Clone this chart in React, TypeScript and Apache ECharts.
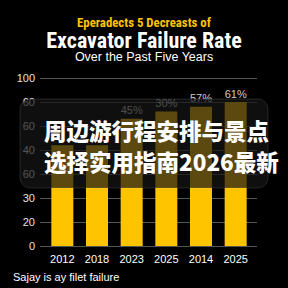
import React, { useEffect, useRef } from "react";
import * as echarts from "echarts";

const categories = ["2012", "2018", "2023", "2025", "2014", "2025"];
const barValues = [42, 42, 53, 56, 58, 60];
const barLabels = ["", "", "45%", "30%", "57%", "61%"];
const tickLabels = ["0", "20", "30", "60", "40", "60", "60", "100"];
const titleTop = "Eperadects 5 Decreasts of";
const titleMain = "Excavator Failure Rate";
const titleSub = "Over the Past Five Years";
const caption = "Sajay is ay filet failure";
const overlayLines = ["周边游行程安排与景点", "选择实用指南2026最新"];

export default function App() {
  const ref = useRef<HTMLDivElement>(null);
  useEffect(() => {
    const chart = echarts.init(ref.current!, null, { renderer: "svg" });
    const narrow = "'Roboto Condensed', 'Liberation Sans', Arial, sans-serif";
    chart.setOption({
      animation: false,
      backgroundColor: "#000000",
      grid: [
        { left: 40, right: 31, top: 78, bottom: 42 },
        { left: 45, right: 35, top: 78, bottom: 42 },
      ],
      xAxis: [
        { type: "category", gridIndex: 0, data: categories, show: false },
        {
          type: "category",
          gridIndex: 1,
          data: categories,
          axisLine: { show: false },
          axisTick: { show: false },
          axisLabel: { color: "#ffffff", fontSize: 11, margin: 7, fontFamily: "'Liberation Sans', Arial, sans-serif" },
        },
      ],
      yAxis: [
        {
          type: "value",
          gridIndex: 0,
          min: 0,
          max: 70,
          interval: 10,
          axisLine: { show: false },
          axisTick: { show: false },
          axisLabel: {
            color: "#e0e0e0",
            fontSize: 11,
            margin: 5,
            fontFamily: "'Liberation Sans', Arial, sans-serif",
            formatter: (v: number) => tickLabels[Math.round(v / 10)] ?? "",
          },
          splitLine: { lineStyle: { color: "#555555", width: 1 } },
        },
        { type: "value", gridIndex: 1, min: 0, max: 70, interval: 10, show: false, splitLine: { show: false } },
      ],
      series: [
        {
          type: "bar",
          xAxisIndex: 1,
          yAxisIndex: 1,
          data: barValues,
          barWidth: 22,
          itemStyle: { color: "#FFC400" },
          label: {
            show: true,
            position: "top",
            distance: 3,
            color: "#cccccc",
            fontSize: 11,
            fontFamily: "'Liberation Sans', Arial, sans-serif",
            formatter: (p: any) => barLabels[p.dataIndex],
          },
        },
      ],
      graphic: [
        {
          type: "text",
          x: 144,
          y: 22,
          style: { text: titleTop, fill: "#FFC400", font: `bold 12.8px ${narrow}`, align: "center", verticalAlign: "middle" },
        },
        {
          type: "text",
          x: 144,
          y: 40,
          style: { text: titleMain, fill: "#ffffff", font: `bold 22px ${narrow}`, align: "center", verticalAlign: "middle" },
        },
        {
          type: "text",
          x: 144,
          y: 57,
          style: { text: titleSub, fill: "#ffffff", font: `12.5px 'Liberation Sans', Arial, sans-serif`, align: "center", verticalAlign: "middle" },
        },
        {
          type: "text",
          x: 13,
          y: 277,
          style: { text: caption, fill: "#ffffff", font: `11px 'Liberation Sans', Arial, sans-serif`, verticalAlign: "middle" },
        },
        {
          type: "rect",
          z: 100,
          shape: { x: 20, y: 99, width: 248, height: 89, r: 10 },
          style: { fill: "rgba(22,22,22,0.7)", stroke: "rgba(255,255,255,0.12)", lineWidth: 1 },
        },
        {
          type: "text",
          z: 101,
          x: 44,
          y: 130,
          style: {
            text: overlayLines[0],
            fill: "#ffffff",
            font: "900 22.5px 'Noto Sans CJK SC', sans-serif",
            verticalAlign: "middle",
            shadowColor: "rgba(0,0,0,0.9)",
            shadowBlur: 4,
          },
        },
        {
          type: "text",
          z: 101,
          x: 44,
          y: 161,
          style: {
            text: overlayLines[1],
            fill: "#ffffff",
            font: "900 22.5px 'Noto Sans CJK SC', sans-serif",
            verticalAlign: "middle",
            shadowColor: "rgba(0,0,0,0.9)",
            shadowBlur: 4,
          },
        },
      ],
    });
    return () => chart.dispose();
  }, []);
  return <div ref={ref} style={{ width: 288, height: 288, position: "absolute", left: 0, top: 0 }} />;
}
